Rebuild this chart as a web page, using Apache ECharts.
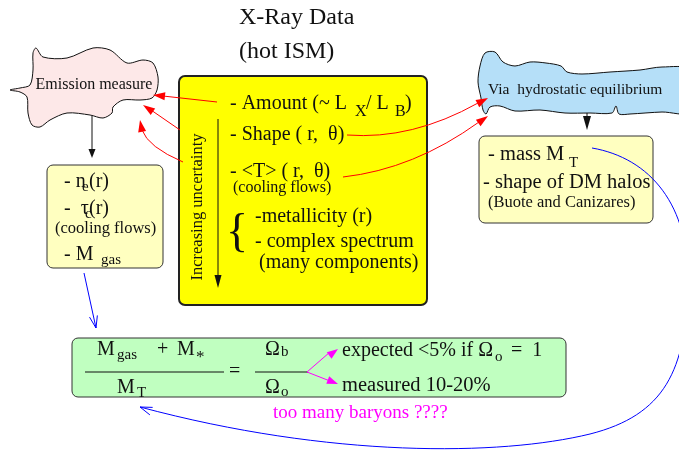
<!DOCTYPE html>
<html>
<head>
<meta charset="utf-8">
<script src="https://cdn.jsdelivr.net/npm/echarts@6/dist/echarts.min.js"></script>
<style>html,body{margin:0;padding:0;background:#fff;}#c{width:679px;height:451px;}</style>
</head>
<body>
<div id="c"></div>
<script>
// ---- texts of the diagram ----
const titleLines = ['X-Ray Data', '(hot ISM)'];
const leftCloudLabel = 'Emission measure';
const rightCloudLabel = 'Via  hydrostatic equilibrium';
const uncertaintyLabel = 'Increasing uncertainty';
const centralItems = ['- Amount (~ L', 'X', '/ L', 'B', ')', '- Shape ( r,  \u03b8)', '- <T> ( r,  \u03b8)', '(cooling flows)', '{', '-metallicity (r)', '- complex spectrum', '(many components)'];
const leftBoxItems = ['- n', 'e', '(r)', '-  \u03c4', 'c', '(r)', '(cooling flows)', '- M', 'gas'];
const rightBoxItems = ['- mass M', 'T', '- shape of DM halos', '(Buote and Canizares)'];
const fractionParts = ['M', 'gas', '+', 'M', '*', 'M', 'T', '=', '\u03a9', 'b', '\u03a9', 'o'];
const outcomeTexts = ['expected <5% if \u03a9', 'o', '=  1', 'measured 10-20%'];
const conclusion = 'too many baryons ????';

const SERIF = '"Liberation Serif", "DejaVu Serif", serif';
const els = [];
function T(text, x, y, size, fill, align) {
  els.push({type: 'text', x: x, y: y, z: 20,
    style: {text: text, font: size + 'px ' + SERIF, fill: fill || '#111', textAlign: align || 'left', textVerticalAlign: 'middle'}});
}
function head(tx, ty, dx, dy, len, w, color, open) {
  const n = Math.hypot(dx, dy); dx /= n; dy /= n;
  const bx = tx - dx * len, by = ty - dy * len, px = -dy, py = dx;
  if (open) {
    els.push({type: 'polyline', z: 15, shape: {points: [[bx + px * w, by + py * w], [tx, ty], [bx - px * w, by - py * w]]}, style: {stroke: color, lineWidth: 1, fill: null}});
  } else {
    els.push({type: 'polygon', z: 15, shape: {points: [[tx, ty], [bx + px * w, by + py * w], [bx - px * w, by - py * w]]}, style: {fill: color}});
  }
}
function L(x1, y1, x2, y2, color, lw) {
  els.push({type: 'line', z: 14, shape: {x1: x1, y1: y1, x2: x2, y2: y2}, style: {stroke: color, lineWidth: lw || 1}});
}
function Q(x1, y1, cx, cy, x2, y2, color) {
  els.push({type: 'bezierCurve', z: 14, shape: {x1: x1, y1: y1, cpx1: cx, cpy1: cy, x2: x2, y2: y2}, style: {stroke: color, lineWidth: 1, fill: null}});
}
function C(x1, y1, c1x, c1y, c2x, c2y, x2, y2, color) {
  els.push({type: 'bezierCurve', z: 14, shape: {x1: x1, y1: y1, cpx1: c1x, cpy1: c1y, cpx2: c2x, cpy2: c2y, x2: x2, y2: y2}, style: {stroke: color, lineWidth: 1, fill: null}});
}
function box(x, y, w, h, fill, stroke, lw, r) {
  els.push({type: 'rect', z: 5, shape: {x: x, y: y, width: w, height: h, r: r}, style: {fill: fill, stroke: stroke, lineWidth: lw}});
}

// title
T(titleLines[0], 239, 18, 24);
T(titleLines[1], 239, 52, 24);

// left cloud
els.push({type: 'polygon', z: 4, shape: {smooth: 0.3, points: [[33,53],[36,48],[43,57],[67,58],[93,48],[110,50],[127,63],[143,60],[153,63],[158,77],[157,90],[152,98],[140,100],[123,100],[113,107],[112,113],[103,118],[90,115],[67,113],[50,120],[40,127],[32,125],[28,113],[27,97],[20,92],[10,90],[20,88],[30,85],[33,70]]}, style: {fill: '#fde8e8', stroke: '#111', lineWidth: 1}});
T(leftCloudLabel, 94, 85, 16, '#111', 'center');

// right cloud
els.push({type: 'polygon', z: 4, shape: {smooth: 0.3, points: [[485,53],[495,52],[503,62],[515,66],[530,62],[546,63],[561,66],[567,72],[582,74],[610,72],[640,70],[662,67],[690,70],[690,112],[662,112],[630,114],[619,114],[616,106],[612,113],[590,113],[565,113],[540,110],[515,111],[500,106],[490,107],[486,114],[483,110],[481,98],[478,82],[480,66]]}, style: {fill: '#b5dff8', stroke: '#111', lineWidth: 1}});
T(rightCloudLabel, 488, 90, 15.5);

// black down arrows
L(92, 116, 92, 150, '#111'); head(92, 158, 0, 1, 9, 3.5, '#111');
L(587, 113, 587, 122, '#111'); head(587, 130, 0, 1, 14, 4, '#111');

// central yellow box
box(179, 76, 248, 229, '#ffff00', '#222', 2, 6);
els.push({type: 'text', x: 198, y: 207, rotation: Math.PI / 2, z: 20,
  style: {text: uncertaintyLabel, font: '16.5px ' + SERIF, fill: '#111', textAlign: 'center', textVerticalAlign: 'middle'}});
L(218, 119, 218, 278, '#111'); head(218, 288, 0, 1, 13, 3.5, '#111');
T(centralItems[0], 230, 104, 20);
T(centralItems[1], 355, 112, 16);
T(centralItems[2], 366, 104, 20);
T(centralItems[3], 395, 112, 16);
T(centralItems[4], 405, 104, 20);
T(centralItems[5], 230, 135, 20);
T(centralItems[6], 230, 172, 20);
T(centralItems[7], 233, 188, 16);
T(centralItems[8], 237, 234, 46, '#111', 'center');
T(centralItems[9], 255, 217, 20);
T(centralItems[10], 255, 242, 20);
T(centralItems[11], 259, 263, 20);

// left pale box
box(47, 165, 116, 103, '#ffffc0', '#333', 1, 6);
T(leftBoxItems[0], 64, 182, 20);
T(leftBoxItems[1], 82, 187, 15);
T(leftBoxItems[2], 89, 182, 20);
T(leftBoxItems[3], 64, 209, 20);
T(leftBoxItems[4], 85, 214, 15);
T(leftBoxItems[5], 89, 209, 20);
T(leftBoxItems[6], 55, 229, 16.5);
T(leftBoxItems[7], 64, 255, 20);
T(leftBoxItems[8], 101, 260, 15);

// right pale box
box(479, 136, 174, 87, '#ffffc0', '#333', 1, 6);
T(rightBoxItems[0], 488, 155, 20.5);
T(rightBoxItems[1], 569, 163, 15);
T(rightBoxItems[2], 483, 183, 20.5);
T(rightBoxItems[3], 488, 203, 16.5);

// green box
box(72, 338, 494, 59, '#c0ffc0', '#333', 1, 6);
T(fractionParts[0], 97, 350, 20);
T(fractionParts[1], 117, 355, 15);
T(fractionParts[2], 157, 350, 20);
T(fractionParts[3], 177, 350, 20);
T(fractionParts[4], 196, 358, 17);
L(85, 372, 224, 372, '#111');
T(fractionParts[5], 117, 388, 20);
T(fractionParts[6], 137, 393, 15);
T(fractionParts[7], 229, 372, 20);
T(fractionParts[8], 265, 350, 20);
T(fractionParts[9], 281, 352, 15);
L(255, 372, 308, 372, '#111');
T(fractionParts[10], 265, 388, 20);
T(fractionParts[11], 281, 392, 15);
T(outcomeTexts[0], 342, 351, 20);
T(outcomeTexts[1], 495, 357, 15);
T(outcomeTexts[2], 511, 351, 20);
T(outcomeTexts[3], 342, 386, 20.5);
T(conclusion, 273, 413, 19, '#ff00ff');

// magenta arrows
L(307, 372, 330, 352, '#ff00ff'); head(338, 349, 31, -23, 11, 4, '#ff00ff');
L(307, 372, 330, 381, '#ff00ff'); head(338, 384, 31, 12, 11, 4, '#ff00ff');

// red arrows to the left cloud
L(217, 102, 163, 96, '#ff0000'); head(153, 95, -64, -7, 12, 4, '#ff0000');
L(180, 130, 151, 110, '#ff0000'); head(143, 105, -37, -25, 12, 4, '#ff0000');
Q(183, 162, 148, 147, 142, 130, '#ff0000'); head(140, 120, -4, -22, 12, 4, '#ff0000');
// red arrows to the right cloud
Q(347, 135, 412, 140, 478, 103, '#ff0000'); head(488, 98, 76, -40, 12, 4, '#ff0000');
Q(343, 177, 414, 169, 479, 122, '#ff0000'); head(488, 116, 70, -50, 12, 4, '#ff0000');

// blue arrows
L(84, 273, 96, 328, '#0000ff'); head(96, 328, 12, 55, 12, 4, '#0000ff', true);
C(592, 148, 650, 158, 690, 205, 688, 285, '#0000ff');
C(688, 285, 686, 370, 665, 415, 590, 434, '#0000ff');
C(590, 434, 500, 456, 330, 458, 140, 407, '#0000ff');
head(140, 407, -60, -22, 12, 4, '#0000ff', true);

const chart = echarts.init(document.getElementById('c'), null, {renderer: 'canvas'});
chart.setOption({animation: false, graphic: {elements: els}});
</script>
</body>
</html>
